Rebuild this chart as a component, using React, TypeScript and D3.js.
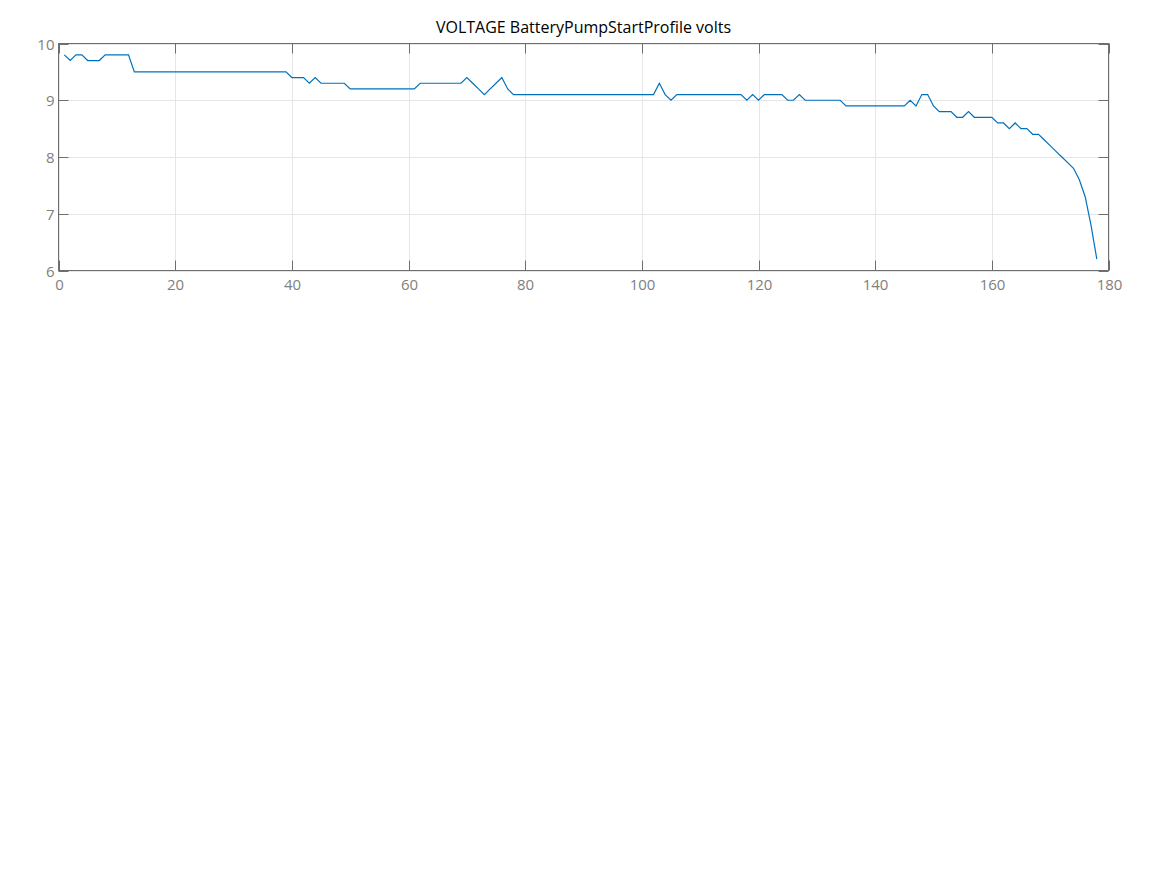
import React from "react";
import * as d3 from "d3";

const title = "VOLTAGE BatteryPumpStartProfile volts";
const xTicks = [0, 20, 40, 60, 80, 100, 120, 140, 160, 180];
const yTicks = [6, 7, 8, 9, 10];
const volts = [
  9.8, 9.7, 9.8, 9.8, 9.7, 9.7, 9.7, 9.8, 9.8, 9.8,
  9.8, 9.8, 9.5, 9.5, 9.5, 9.5, 9.5, 9.5, 9.5, 9.5,
  9.5, 9.5, 9.5, 9.5, 9.5, 9.5, 9.5, 9.5, 9.5, 9.5,
  9.5, 9.5, 9.5, 9.5, 9.5, 9.5, 9.5, 9.5, 9.5, 9.4,
  9.4, 9.4, 9.3, 9.4, 9.3, 9.3, 9.3, 9.3, 9.3, 9.2,
  9.2, 9.2, 9.2, 9.2, 9.2, 9.2, 9.2, 9.2, 9.2, 9.2,
  9.2, 9.3, 9.3, 9.3, 9.3, 9.3, 9.3, 9.3, 9.3, 9.4,
  9.3, 9.2, 9.1, 9.2, 9.3, 9.4, 9.2, 9.1, 9.1, 9.1,
  9.1, 9.1, 9.1, 9.1, 9.1, 9.1, 9.1, 9.1, 9.1, 9.1,
  9.1, 9.1, 9.1, 9.1, 9.1, 9.1, 9.1, 9.1, 9.1, 9.1,
  9.1, 9.1, 9.3, 9.1, 9.0, 9.1, 9.1, 9.1, 9.1, 9.1,
  9.1, 9.1, 9.1, 9.1, 9.1, 9.1, 9.1, 9.0, 9.1, 9.0,
  9.1, 9.1, 9.1, 9.1, 9.0, 9.0, 9.1, 9.0, 9.0, 9.0,
  9.0, 9.0, 9.0, 9.0, 8.9, 8.9, 8.9, 8.9, 8.9, 8.9,
  8.9, 8.9, 8.9, 8.9, 8.9, 9.0, 8.9, 9.1, 9.1, 8.9,
  8.8, 8.8, 8.8, 8.7, 8.7, 8.8, 8.7, 8.7, 8.7, 8.7,
  8.6, 8.6, 8.5, 8.6, 8.5, 8.5, 8.4, 8.4, 8.3, 8.2,
  8.1, 8.0, 7.9, 7.8, 7.6, 7.3, 6.8, 6.2,
];

const W = 1167;
const H = 875;
const L = 58.5, R = 1108.5, T = 43.5, B = 270.5;
const FONT = "'Open Sans', 'Noto Sans', sans-serif";

export default function App() {
  const x = d3.scaleLinear().domain([0, 180]).range([L, R]);
  const y = d3.scaleLinear().domain([6, 10]).range([B, T]);
  const line = d3
    .line<number>()
    .x((_, i) => x(i + 1))
    .y((d) => y(d));
  const axisColor = "#6e6e6e";
  const gridColor = "#e6e6e6";
  const labelColor = "#808080";
  const tickLen = 10;
  return (
    <svg
      width={W}
      height={H}
      style={{ position: "absolute", left: 0, top: 0, background: "#fff" }}
    >
      <text
        x={(L + R) / 2}
        y={33}
        textAnchor="middle"
        fontFamily={FONT}
        fontSize={16}
        fill="#000"
      >
        {title}
      </text>
      {xTicks.map((t) => (
        <line key={"gx" + t} x1={Math.round(x(t)) + 0.5} x2={Math.round(x(t)) + 0.5} y1={T} y2={B} stroke={gridColor} />
      ))}
      {yTicks.map((t) => (
        <line key={"gy" + t} x1={L} x2={R} y1={Math.round(y(t)) + 0.5} y2={Math.round(y(t)) + 0.5} stroke={gridColor} />
      ))}
      {xTicks.map((t) => {
        const px = Math.round(x(t)) + 0.5;
        return (
          <g key={"tx" + t}>
            <line x1={px} x2={px} y1={B} y2={B - tickLen} stroke={axisColor} />
            <line x1={px} x2={px} y1={T} y2={T + tickLen} stroke={axisColor} />
            <text x={px} y={B + 19.5} textAnchor="middle" fontFamily={FONT} fontSize={15} fill={labelColor}>
              {t}
            </text>
          </g>
        );
      })}
      {yTicks.map((t) => {
        const py = Math.round(y(t)) + 0.5;
        return (
          <g key={"ty" + t}>
            <line x1={L} x2={L + tickLen} y1={py} y2={py} stroke={axisColor} />
            <line x1={R} x2={R - tickLen} y1={py} y2={py} stroke={axisColor} />
            <text x={L - 4} y={py + 5.3} textAnchor="end" fontFamily={FONT} fontSize={15} fill={labelColor}>
              {t}
            </text>
          </g>
        );
      })}
      <rect x={L} y={T} width={R - L} height={B - T} fill="none" stroke={axisColor} />
      <path d={line(volts) || ""} fill="none" stroke="#0072BD" strokeWidth={1.2} />
    </svg>
  );
}
